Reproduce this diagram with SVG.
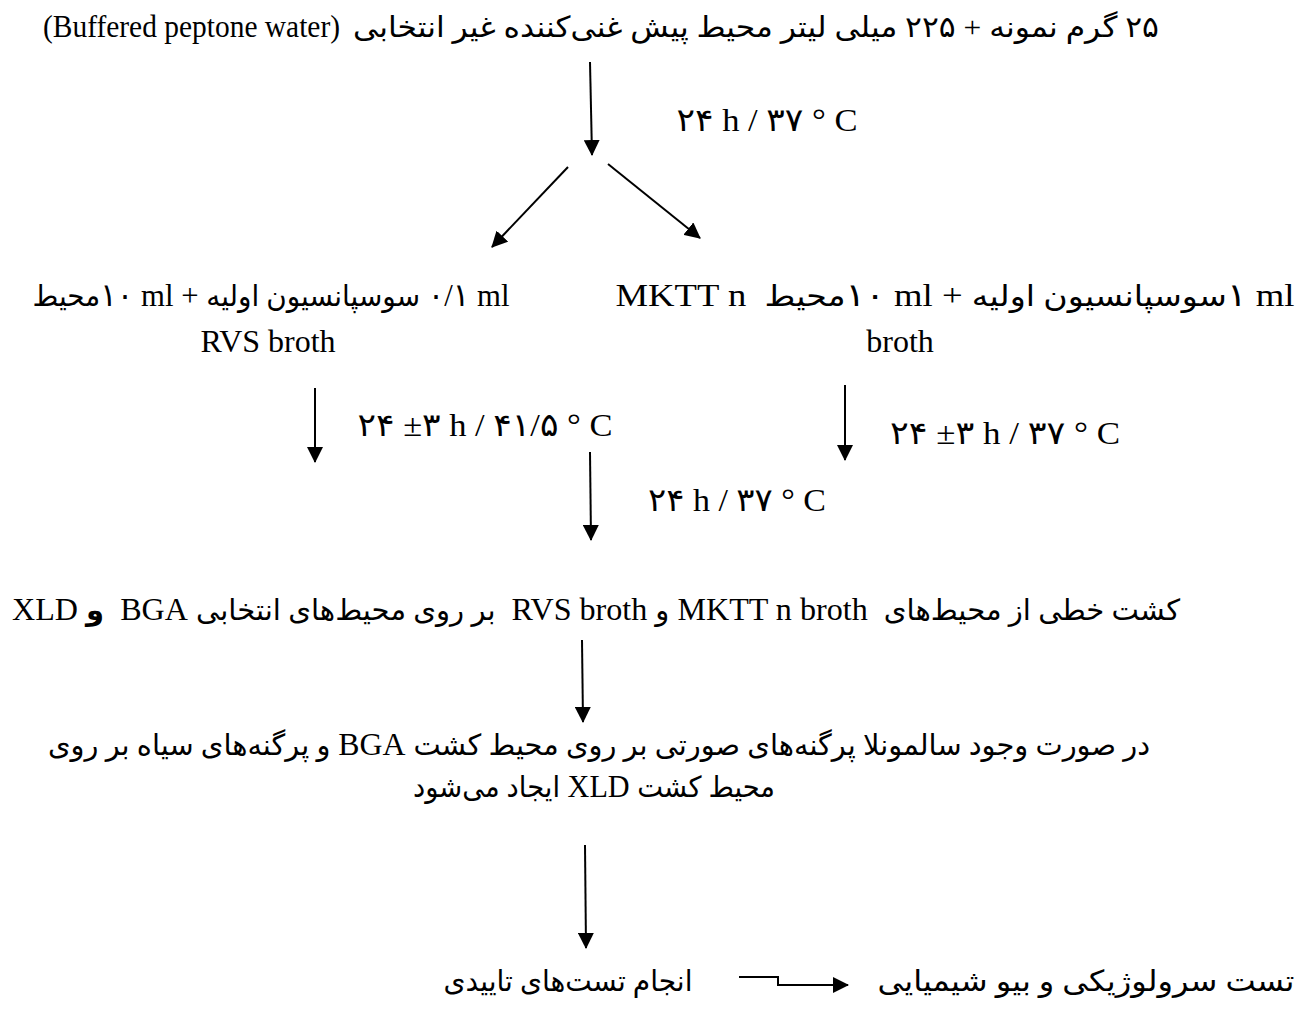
<svg xmlns="http://www.w3.org/2000/svg" width="1311" height="1015" viewBox="0 0 1311 1015">
<style>
text { font-family: "Liberation Serif", "DejaVu Sans", serif; font-size: 32px; fill: #000; text-anchor: middle; white-space: pre; }
.rtl { direction: rtl; unicode-bidi: embed; }
.fa { font-size: 29px; }
.lbl { font-size: 32px; }
.conn line, .conn path { stroke: #000; stroke-width: 2; fill: none; }
</style>
<defs>
<marker id="ah" viewBox="0 0 16 16" refX="15" refY="8" markerWidth="16" markerHeight="16" markerUnits="userSpaceOnUse" orient="auto">
<path d="M0,0 L16,8 L0,16 z" fill="#000"/>
</marker>
</defs>
<g id="n-start">
<text x="43" y="37" style="text-anchor:start" font-size="30" textLength="297" lengthAdjust="spacingAndGlyphs">(Buffered peptone water)</text>
<text class="rtl fa" x="756" y="37" textLength="806" lengthAdjust="spacingAndGlyphs">۲۵ گرم نمونه + ۲۲۵ میلی لیتر محیط پیش غنی‌کننده غیر انتخابی</text>
</g>
<g id="lbl-1"><text class="lbl" x="767" y="131" textLength="181" lengthAdjust="spacingAndGlyphs">۲۴ h / ۳۷ ° C</text></g>
<g id="n-rvs">
<text class="rtl" x="271" y="306" textLength="477" lengthAdjust="spacingAndGlyphs">&#x200E;۰/۱ ml <tspan class="fa">سوسپانسیون اولیه</tspan> + &#x200E;۱۰ ml<tspan class="fa">محیط</tspan></text>
<text x="268" y="352">RVS broth</text>
</g>
<g id="n-mktt">
<text class="rtl" x="955" y="306" textLength="679" lengthAdjust="spacingAndGlyphs">&#x200E;۱ ml<tspan class="fa">سوسپانسیون اولیه</tspan> + &#x200E;۱۰ ml<tspan class="fa">محیط</tspan>  MKTT n</text>
<text x="900" y="352">broth</text>
</g>
<g id="lbl-2"><text class="lbl" x="485" y="436" textLength="255" lengthAdjust="spacingAndGlyphs">۲۴ ±۳ h / ۴۱/۵ ° C</text></g>
<g id="lbl-3"><text class="lbl" x="1005" y="444" textLength="230" lengthAdjust="spacingAndGlyphs">۲۴ ±۳ h / ۳۷ ° C</text></g>
<g id="lbl-4"><text class="lbl" x="737" y="511" textLength="178" lengthAdjust="spacingAndGlyphs">۲۴ h / ۳۷ ° C</text></g>
<g id="n-streak">
<text class="rtl" x="596" y="620" textLength="1168" lengthAdjust="spacingAndGlyphs"><tspan class="fa">کشت خطی از محیط‌های</tspan>  MKTT n broth <tspan class="fa">و</tspan> RVS broth  <tspan class="fa">بر روی محیط‌های انتخابی</tspan> BGA  <tspan class="fa" font-weight="bold">و</tspan> XLD</text>
</g>
<g id="n-colonies">
<text class="rtl" x="599" y="755" textLength="1102" lengthAdjust="spacingAndGlyphs"><tspan class="fa">در صورت وجود سالمونلا پرگنه‌های صورتی بر روی محیط کشت</tspan> BGA <tspan class="fa">و پرگنه‌های سیاه بر روی</tspan></text>
<text class="rtl" x="594" y="797" textLength="362" lengthAdjust="spacingAndGlyphs"><tspan class="fa">محیط کشت</tspan> XLD <tspan class="fa">ایجاد می‌شود</tspan></text>
</g>
<g id="n-confirm">
<text class="rtl fa" x="568" y="991" textLength="249" lengthAdjust="spacingAndGlyphs">انجام تست‌های تاییدی</text>
</g>
<g id="n-sero">
<text class="rtl fa" x="1086" y="991" textLength="417" lengthAdjust="spacingAndGlyphs">تست سرولوژیکی و بیو شیمیایی</text>
</g>
<g class="conn" id="connectors">
<line x1="590" y1="62" x2="592" y2="155" marker-end="url(#ah)"/>
<line x1="568" y1="167" x2="492" y2="247" marker-end="url(#ah)"/>
<line x1="608" y1="164" x2="700" y2="238" marker-end="url(#ah)"/>
<line x1="315" y1="388" x2="315" y2="462" marker-end="url(#ah)"/>
<line x1="845" y1="385" x2="845" y2="460" marker-end="url(#ah)"/>
<line x1="590" y1="452" x2="591" y2="540" marker-end="url(#ah)"/>
<line x1="582" y1="640" x2="583" y2="722" marker-end="url(#ah)"/>
<line x1="585" y1="845" x2="586" y2="948" marker-end="url(#ah)"/>
<path d="M739,977 H778 V985 H848" marker-end="url(#ah)"/>
</g>
</svg>
